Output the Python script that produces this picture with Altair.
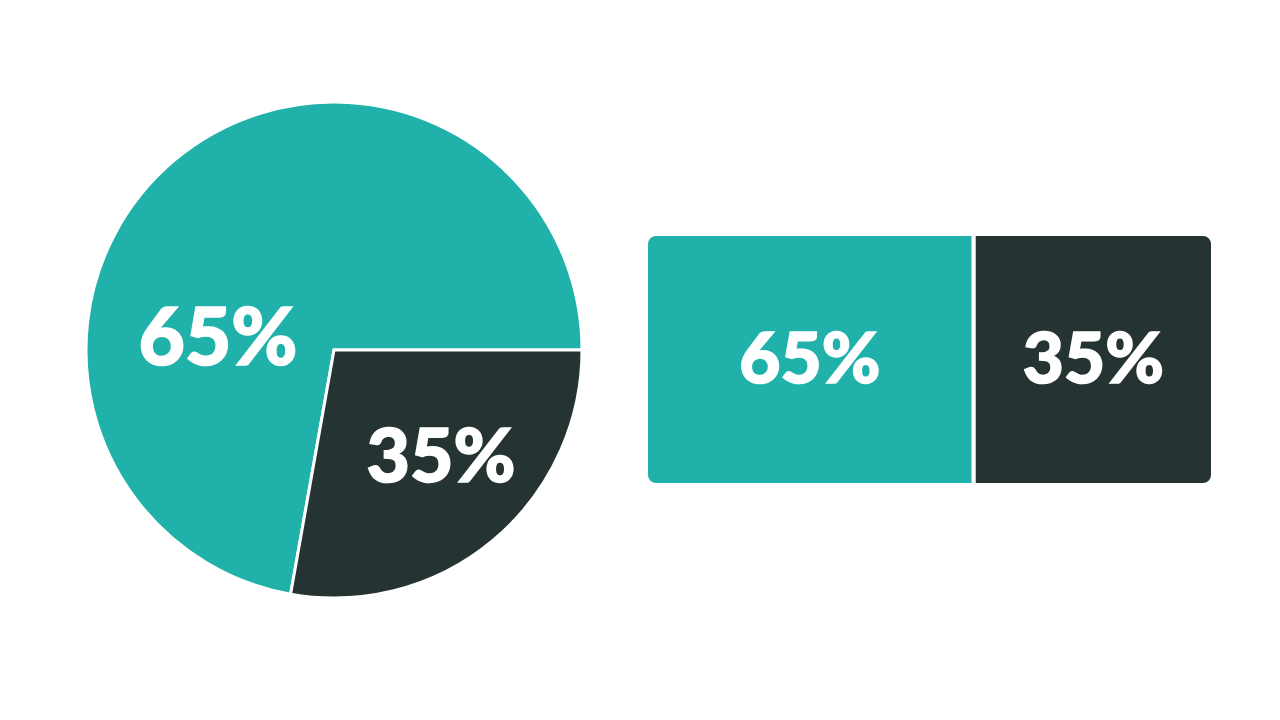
import math
import altair as alt
import pandas as pd

# --- data ---
segments = ["Majority", "Minority"]
label_text = ["65%", "35%"]
pie_share = [72.2, 27.8]      # share of the circle as drawn
bar_share = [57.8, 42.2]      # share of the bar as drawn
colors = ["#20B2AA", "#263333"]

pie_df = pd.DataFrame({
    "segment": segments,
    "share": pie_share,
    "label": label_text,
    "order": [1, 0],
})

bar_end = pd.Series(bar_share).cumsum()
bar_start = bar_end - pd.Series(bar_share)
bar_df = pd.DataFrame({
    "segment": segments,
    "label": label_text,
    "start": bar_start,
    "end": bar_end,
    "mid": (bar_start + bar_end) / 2,
})

color_scale = alt.Scale(domain=segments, range=colors)
x_scale = alt.Scale(domain=[0, 100], range=[638, 1205], nice=False, zero=False)

FONT = "Lato"


def text_style(size):
    return dict(font=FONT, fontSize=size, fontWeight=900, color="white",
                stroke="white", strokeWidth=1.6,
                align="center", baseline="middle")


pie = alt.Chart(pie_df).mark_arc(radius=248, stroke="white", strokeWidth=3).encode(
    theta=alt.Theta("share:Q", stack=True,
                    scale=alt.Scale(range=[math.pi / 2, math.pi / 2 + 2 * math.pi])),
    color=alt.Color("segment:N", scale=color_scale, legend=None),
    order=alt.Order("order:Q"),
    x=alt.value(326),
    y=alt.value(342),
)

pie_label_a = alt.Chart(pie_df).transform_filter(alt.datum.segment == segments[0]).mark_text(
    **text_style(80)
).encode(text="label:N", x=alt.value(210), y=alt.value(333))

pie_label_b = alt.Chart(pie_df).transform_filter(alt.datum.segment == segments[1]).mark_text(
    **text_style(75)
).encode(text="label:N", x=alt.value(433), y=alt.value(451))

bar_a = alt.Chart(bar_df).transform_filter(alt.datum.segment == segments[0]).mark_bar(
    stroke="white", strokeWidth=4, cornerRadiusTopLeft=10, cornerRadiusBottomLeft=10
).encode(
    x=alt.X("start:Q", scale=x_scale, axis=None),
    x2="end:Q",
    y=alt.value(226), y2=alt.value(477),
    color=alt.Color("segment:N", scale=color_scale, legend=None),
)

bar_b = alt.Chart(bar_df).transform_filter(alt.datum.segment == segments[1]).mark_bar(
    stroke="white", strokeWidth=4, cornerRadiusTopRight=10, cornerRadiusBottomRight=10
).encode(
    x=alt.X("start:Q", scale=x_scale, axis=None),
    x2="end:Q",
    y=alt.value(226), y2=alt.value(477),
    color=alt.Color("segment:N", scale=color_scale, legend=None),
)

bar_labels = alt.Chart(bar_df).mark_text(**text_style(71)).encode(
    x=alt.X("mid:Q", scale=x_scale, axis=None),
    y=alt.value(354),
    text="label:N",
)

chart = alt.layer(pie, pie_label_a, pie_label_b, bar_a, bar_b, bar_labels).properties(
    width=1264, height=704, padding=0, background="white"
).configure_view(stroke=None)

chart.save("out.html", embed_options={"renderer": "svg", "actions": False})
